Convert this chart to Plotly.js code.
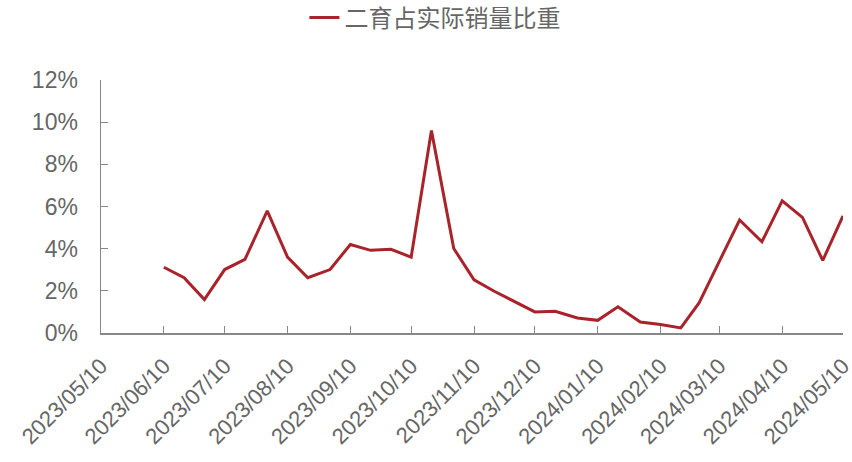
<!DOCTYPE html>
<html>
<head>
<meta charset="utf-8">
<script src="https://cdn.plot.ly/plotly-3.0.1.min.js"></script>
<style>
  body { margin: 0; background: #fff; }
  #chart { width: 852px; height: 462px; }
</style>
</head>
<body>
<div id="chart"></div>
<script>
// share of "second fattening" in actual sales, in percent
var dates = [
  '2023-06-10', '2023-06-20', '2023-06-30',
  '2023-07-10', '2023-07-20', '2023-07-31',
  '2023-08-10', '2023-08-20', '2023-08-31',
  '2023-09-10', '2023-09-20', '2023-09-30',
  '2023-10-10', '2023-10-20', '2023-10-31',
  '2023-11-10', '2023-11-20', '2023-11-30',
  '2023-12-10', '2023-12-20', '2023-12-31',
  '2024-01-10', '2024-01-20', '2024-01-31',
  '2024-02-10', '2024-02-20', '2024-02-29',
  '2024-03-10', '2024-03-20', '2024-03-31',
  '2024-04-10', '2024-04-20', '2024-04-30',
  '2024-05-10'
];
var share = [
  3.12, 2.62, 1.59,
  3.01, 3.49, 5.79,
  3.60, 2.62, 3.01,
  4.20, 3.92, 3.97,
  3.60, 9.60, 4.01,
  2.52, 1.98, 1.50,
  1.00, 1.03, 0.71,
  0.60, 1.24, 0.52,
  0.40, 0.24, 1.43,
  3.40, 5.36, 4.33,
  6.27, 5.48, 3.44,
  5.55
];
var seriesName = '二育占实际销量比重';

var tickDates = ['2023-05-10', '2023-06-10', '2023-07-10', '2023-08-10', '2023-09-10',
  '2023-10-10', '2023-11-10', '2023-12-10', '2024-01-10', '2024-02-10',
  '2024-03-10', '2024-04-10', '2024-05-10'];
var tickLabels = tickDates.map(function(d) { return d.replace(/-/g, '/'); });

var yTicks = [0, 2, 4, 6, 8, 10, 12];
var yLabels = yTicks.map(function(v) { return v + '%'; });

var trace = {
  x: dates,
  y: share,
  name: seriesName,
  type: 'scatter',
  mode: 'lines',
  line: { color: '#a8232a', width: 3 }
};

var layout = {
  width: 852,
  height: 462,
  margin: { l: 101, r: 9, t: 80, b: 129, autoexpand: false },
  paper_bgcolor: '#ffffff',
  plot_bgcolor: '#ffffff',
  font: { family: 'Liberation Sans, Arial, sans-serif', color: '#666666', size: 18 },
  showlegend: true,
  legend: {
    orientation: 'h',
    x: 0.45,
    xanchor: 'center',
    y: 1.245,
    yanchor: 'middle',
    font: { family: 'Noto Sans CJK SC, sans-serif', size: 24, color: '#666666' }
  },
  xaxis: {
    type: 'date',
    range: ['2023-05-10', '2024-05-10'],
    tickvals: tickDates,
    ticktext: tickLabels,
    tickangle: -45,
    ticks: 'inside',
    ticklen: 7,
    tickcolor: '#888888',
    ticklabelstandoff: 10,
    ticklabeloverflow: 'allow',
    showgrid: false,
    zeroline: false,
    showline: true,
    linecolor: '#888888',
    linewidth: 1.5,
    tickfont: { size: 22, color: '#666666' }
  },
  yaxis: {
    range: [0, 12],
    tickvals: yTicks,
    ticktext: yLabels,
    ticks: 'inside',
    ticklen: 7,
    tickcolor: '#888888',
    ticklabelstandoff: 17,
    showgrid: false,
    zeroline: false,
    showline: true,
    linecolor: '#888888',
    linewidth: 1.5,
    tickfont: { size: 23, color: '#666666' }
  }
};

Plotly.newPlot('chart', [trace], layout, { displayModeBar: false, staticPlot: true });
</script>
</body>
</html>
